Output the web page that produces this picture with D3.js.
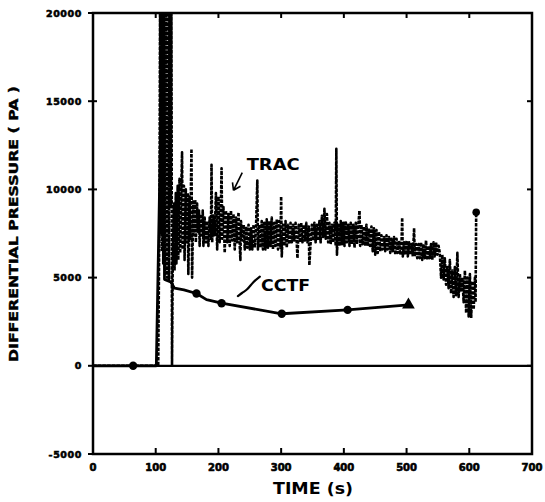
<!DOCTYPE html>
<html>
<head>
<meta charset="utf-8">
<script src="https://cdn.jsdelivr.net/npm/d3@7"></script>
<style>
  html, body { margin: 0; padding: 0; background: #fff; }
  svg { display: block; }
  text { font-family: "DejaVu Sans", "Liberation Sans", sans-serif; font-weight: bold; fill: #000; }
</style>
</head>
<body>
<svg id="chart" width="545" height="502"></svg>
<script>
// Axis ticks
const xTicks = [0, 100, 200, 300, 400, 500, 600, 700];
const yTicks = [-5000, 0, 5000, 10000, 15000, 20000];

// CCTF measurement: [time (s), differential pressure (Pa)]
const cctf = [
  [0, 0], [64, 0], [101, 0], [112, 21500], [114, 4900], [124, 4750],
  [130, 4400], [145, 4300], [165, 4100], [181, 3750], [205, 3550],
  [301, 2950], [406, 3170], [503, 3450]
];
const cctfCircles = [[64, 0], [165, 4100], [205, 3550], [301, 2950], [406, 3170]];
const cctfTriangle = [[503, 3450]];

// TRAC calculation: [time (s), differential pressure (Pa)]
const trac = [
  [0, 0], [104, 0],
  [106, 9000], [107, 21500], [108, 7500], [109, 21500], [110, 6500], [111, 21500],
  [112, 5800], [113, 21500], [115, 5200], [116, 21500], [118, 5000], [119, 21500],
  [121, 4800], [122, 21500], [124, 9000], [125, 21500], [126, 0], [127, 5200],
  [129, 9200], [130, 5400], [132, 9800], [133, 5800], [135, 10200], [136, 6000],
  [138, 10600], [139, 6400], [141, 10400], [142, 12100], [143, 6600], [145, 10200],
  [146, 6000], [148, 10000], [149, 7000], [151, 9800], [152, 5200], [154, 9600],
  [155, 7200], [157, 12300], [158, 5000], [160, 9400], [161, 7400], [163, 9400],
  [164, 7000], [166, 9200], [167, 7600], [169, 8800], [170, 6800], [172, 8600],
  [173, 7400], [175, 8800], [176, 6800], [178, 8400],
  [180, 7000], [182, 8200], [184, 6800], [186, 8400], [188, 7200], [189, 11400],
  [190, 7000], [192, 8600], [194, 7400], [196, 9800], [198, 6600], [200, 9600],
  [202, 7000], [204, 9200], [205, 11200], [206, 7200], [208, 9000], [210, 6400],
  [212, 8800], [214, 7000], [216, 8600], [218, 6800], [220, 8800], [222, 7100],
  [224, 8600], [226, 6600], [228, 8400], [230, 7000], [232, 8700], [234, 6800],
  [235, 6000], [236, 8200], [238, 7100], [240, 8000],
  [242, 6600], [244, 7900], [246, 6700], [248, 8000], [250, 6600], [252, 7800],
  [254, 6600], [256, 8000], [258, 6700], [260, 7900], [262, 10500], [263, 6600],
  [265, 8000], [267, 6700], [269, 8200], [271, 6600], [273, 8100],
  [275, 6600], [277, 8300], [279, 6700], [281, 8200], [283, 6800], [285, 8400],
  [287, 6600], [289, 8100], [291, 6800], [293, 8300], [295, 6600], [297, 8200],
  [299, 6700], [300, 9600], [301, 6200], [303, 8000], [305, 6800], [307, 8200],
  [309, 6700], [311, 8000], [313, 6900],
  [315, 8100], [317, 7000], [319, 8000], [321, 7100], [323, 8100], [325, 6900],
  [326, 6100], [328, 8000], [330, 7000], [332, 8100], [334, 7000], [336, 8000],
  [338, 7100], [340, 8100], [342, 7000], [344, 7900], [345, 5700], [347, 7000],
  [349, 8000], [351, 7100], [353, 8100], [355, 7000], [357, 8000], [359, 7100],
  [361, 8200],
  [363, 7000], [365, 8500], [367, 7300], [369, 8900], [371, 7200], [373, 8600],
  [375, 7000], [377, 8100], [379, 6900], [381, 8000], [383, 7000], [385, 8100],
  [387, 6800], [388, 12300], [389, 6300], [391, 8000],
  [393, 6800], [395, 8200], [397, 6900], [399, 8100], [401, 6800], [403, 8200],
  [405, 7000], [407, 8000], [409, 6800], [411, 8100], [413, 6900], [415, 8000],
  [417, 6700], [419, 8100], [421, 6900], [423, 8000], [425, 8800], [426, 6800],
  [428, 8000], [430, 6900], [432, 7900], [434, 6800], [436, 8000], [438, 6800],
  [440, 7800], [442, 6700], [444, 7900], [446, 6500], [448, 7800], [450, 6300],
  [452, 7700], [454, 6400], [456, 7600],
  [458, 6500], [460, 7400], [462, 6600], [464, 7300], [466, 6500], [468, 7400],
  [470, 6600], [472, 7300], [474, 6400], [476, 7200], [478, 6500], [480, 7300],
  [482, 6300], [484, 7200], [486, 6400], [488, 7100], [490, 6300], [492, 7000],
  [493, 8400], [494, 6200], [496, 7000], [498, 6300], [500, 7100], [502, 6200],
  [504, 7000], [506, 6300], [508, 6900], [510, 6200], [512, 7800], [513, 6200],
  [515, 6900], [517, 6100], [519, 6900],
  [521, 6100], [523, 7000], [525, 6000], [527, 6900], [529, 6100], [531, 7100],
  [533, 6000], [535, 6800], [537, 6100], [539, 6900], [541, 6000], [543, 7000],
  [545, 6200], [547, 7000], [549, 6300], [551, 6800],
  [553, 6400], [555, 5000], [557, 6300], [559, 4900], [561, 6100], [563, 4600],
  [565, 5600], [567, 4400], [569, 6000], [571, 4100], [573, 5400], [575, 3900],
  [577, 5600], [579, 4000], [581, 6400], [583, 3900], [585, 5200], [587, 4200],
  [589, 5000], [591, 3600], [593, 5400], [595, 3000], [597, 5000], [599, 2800],
  [601, 5200], [603, 2700], [605, 4800], [607, 3200], [609, 5000], [610, 3600],
  [611, 8700]
];
const tracEnd = [[611, 8700]];

// Label anchors in data units
const labels = [
  { text: "TRAC", t: 245, v: 11100, len: 53 },
  { text: "CCTF", t: 268, v: 4250, len: 49 }
];
const tracArrow = [[238, 10950], [224, 9950]];
const cctfPointer = [[231, 3950], [238, 4150], [246, 4300], [255, 4750], [266, 5050]];

const svg = d3.select("#chart");
const x = d3.scaleLinear().domain([0, 700]).range([93, 532]);
const y = d3.scaleLinear().domain([-5000, 20000]).range([454, 13]);

// Clip the data to the plot frame
svg.append("clipPath").attr("id", "plotClip")
  .append("rect")
  .attr("x", x(0)).attr("y", y(20000))
  .attr("width", x(700) - x(0)).attr("height", y(-5000) - y(20000));

const plot = svg.append("g").attr("clip-path", "url(#plotClip)");
const line = d3.line().x(d => x(d[0])).y(d => y(d[1]));

// Zero reference line
svg.append("line")
  .attr("x1", x(0)).attr("x2", x(700))
  .attr("y1", y(0)).attr("y2", y(0))
  .attr("stroke", "#000").attr("stroke-width", 2.2);

// TRAC: heavy dashed trace
plot.append("path").datum(trac)
  .attr("d", line)
  .attr("fill", "none").attr("stroke", "#000")
  .attr("stroke-width", 2.6)
  .attr("stroke-dasharray", "3.5,1.2")
  .attr("stroke-linejoin", "round");

plot.selectAll("circle.tracEnd").data(tracEnd).join("circle")
  .attr("class", "tracEnd")
  .attr("cx", d => x(d[0])).attr("cy", d => y(d[1])).attr("r", 3.8)
  .attr("fill", "#000");

// CCTF: solid line with markers
plot.append("path").datum(cctf)
  .attr("d", line)
  .attr("fill", "none").attr("stroke", "#000")
  .attr("stroke-width", 2.8)
  .attr("stroke-linejoin", "round");

plot.selectAll("circle.cctf").data(cctfCircles).join("circle")
  .attr("class", "cctf")
  .attr("cx", d => x(d[0])).attr("cy", d => y(d[1])).attr("r", 4.2)
  .attr("fill", "#000");

plot.selectAll("path.tri").data(cctfTriangle).join("path")
  .attr("class", "tri")
  .attr("transform", d => `translate(${x(d[0])},${y(d[1])})`)
  .attr("d", d3.symbol().type(d3.symbolTriangle).size(70))
  .attr("fill", "#000");

// Frame
svg.append("rect")
  .attr("x", x(0)).attr("y", y(20000))
  .attr("width", x(700) - x(0)).attr("height", y(-5000) - y(20000))
  .attr("fill", "none").attr("stroke", "#000").attr("stroke-width", 2.5);

// Ticks: bottom and top point inward; left crosses the axis; right points inward
const tk = svg.append("g").attr("stroke", "#000").attr("stroke-width", 2);
xTicks.forEach(t => {
  tk.append("line").attr("x1", x(t)).attr("x2", x(t)).attr("y1", y(-5000)).attr("y2", y(-5000) - 6);
  tk.append("line").attr("x1", x(t)).attr("x2", x(t)).attr("y1", y(20000)).attr("y2", y(20000) + 5);
});
yTicks.forEach(v => {
  tk.append("line").attr("x1", x(0) - 5).attr("x2", x(0) + 4).attr("y1", y(v)).attr("y2", y(v));
  tk.append("line").attr("x1", x(700)).attr("x2", x(700) - 5).attr("y1", y(v)).attr("y2", y(v));
});

// Tick labels
svg.append("g").selectAll("text").data(xTicks).join("text")
  .attr("x", d => x(d)).attr("y", 471)
  .attr("text-anchor", "middle")
  .attr("font-size", 10)
  .attr("stroke", "#000").attr("stroke-width", 0.6)
  .text(d => d);

svg.append("g").selectAll("text").data(yTicks).join("text")
  .attr("x", 82).attr("y", d => y(d) + 3.5)
  .attr("text-anchor", "end")
  .attr("font-size", 9.5)
  .attr("letter-spacing", 0.6)
  .attr("stroke", "#000").attr("stroke-width", 0.6)
  .text(d => d);

// Axis titles
svg.append("text")
  .attr("x", 313).attr("y", 494)
  .attr("text-anchor", "middle")
  .attr("font-size", 15)
  .attr("textLength", 80).attr("lengthAdjust", "spacingAndGlyphs")
  .text("TIME (s)");

svg.append("text")
  .attr("transform", "translate(18,224) rotate(-90)")
  .attr("text-anchor", "middle")
  .attr("font-size", 12)
  .attr("textLength", 276).attr("lengthAdjust", "spacingAndGlyphs")
  .attr("stroke", "#000").attr("stroke-width", 0.4)
  .text("DIFFERENTIAL PRESSURE  ( PA )");

// Series labels and pointers
svg.append("g").selectAll("text").data(labels).join("text")
  .attr("x", d => x(d.t)).attr("y", d => y(d.v))
  .attr("font-size", 16)
  .attr("textLength", d => d.len).attr("lengthAdjust", "spacingAndGlyphs")
  .text(d => d.text);

const a0 = tracArrow[0], a1 = tracArrow[1];
const ax0 = x(a0[0]), ay0 = y(a0[1]), ax1 = x(a1[0]), ay1 = y(a1[1]);
svg.append("path")
  .attr("d", `M${ax0},${ay0} L${ax1},${ay1} M${ax1},${ay1} L${ax1 - 1},${ay1 - 8} M${ax1},${ay1} L${ax1 + 7},${ay1 - 4}`)
  .attr("fill", "none").attr("stroke", "#000").attr("stroke-width", 1.6);

svg.append("path").datum(cctfPointer)
  .attr("d", d3.line().x(d => x(d[0])).y(d => y(d[1])).curve(d3.curveBasis))
  .attr("fill", "none").attr("stroke", "#000").attr("stroke-width", 2.2)
  .attr("stroke-linecap", "round");
</script>
</body>
</html>
